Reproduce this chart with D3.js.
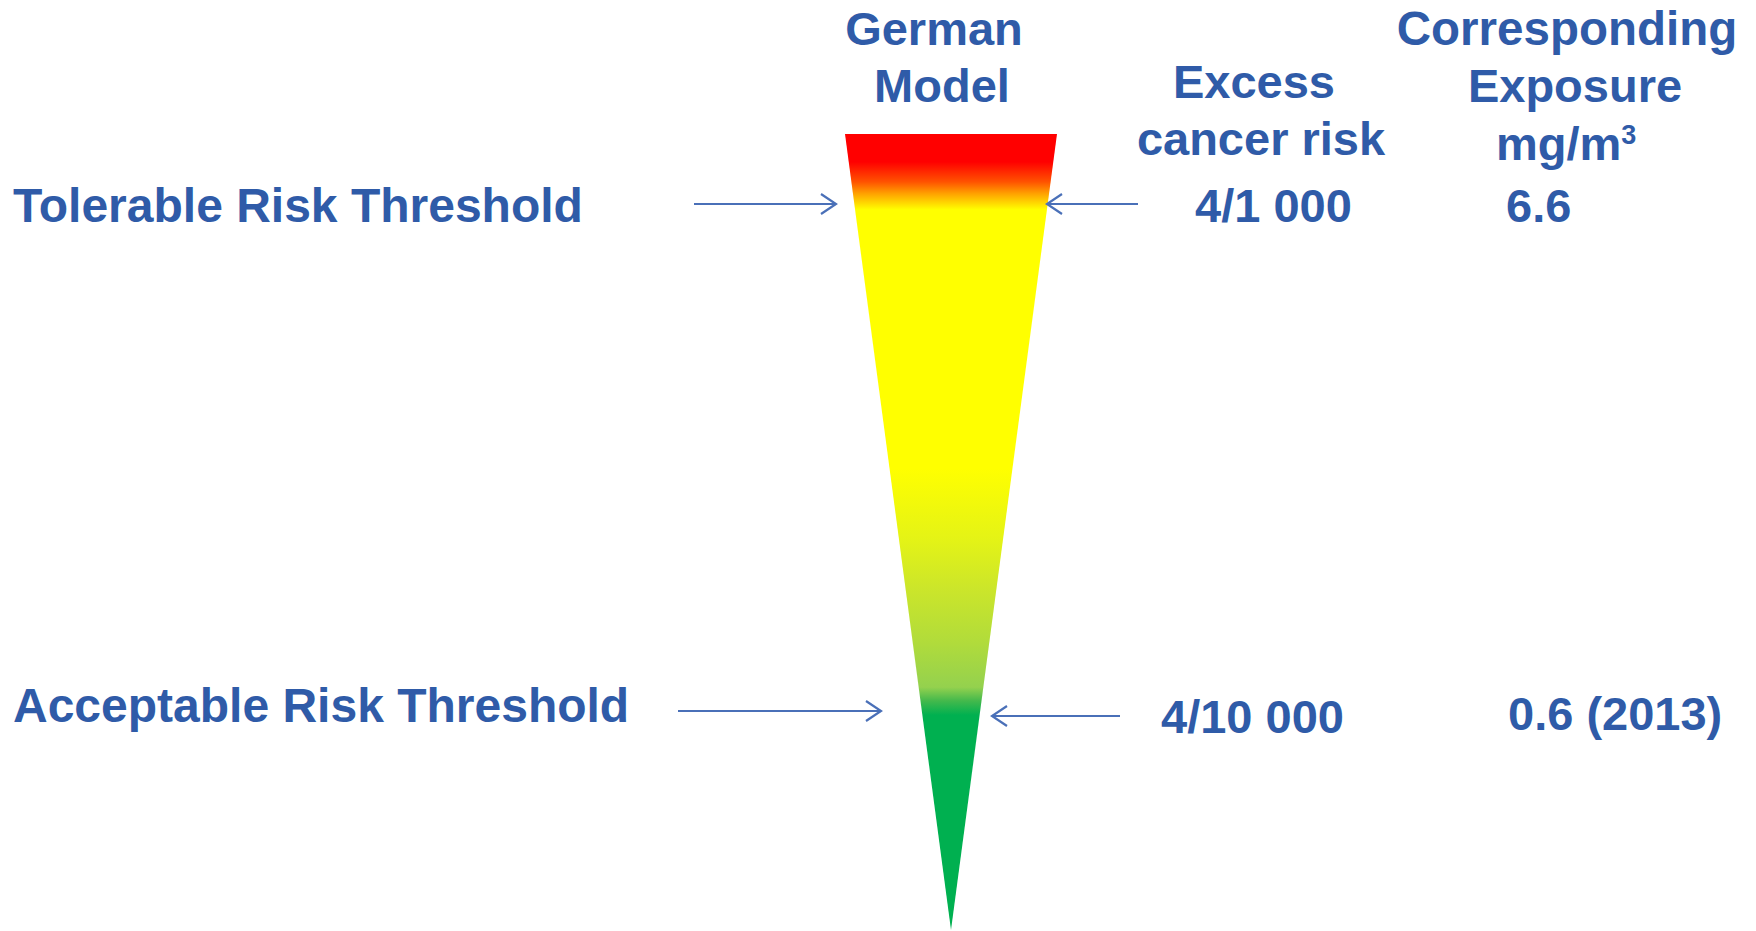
<!DOCTYPE html>
<html>
<head>
<meta charset="utf-8">
<script src="https://cdn.jsdelivr.net/npm/d3@7"></script>
<style>
  html, body { margin: 0; padding: 0; background: #ffffff; }
  svg { display: block; }
  text { font-family: "Liberation Sans", Arial, sans-serif; font-weight: bold; fill: #2f5ba8; }
</style>
</head>
<body>
<svg id="chart" width="1756" height="931"></svg>
<script>
// ---------- data ----------
const thresholdNames = ["Tolerable Risk Threshold", "Acceptable Risk Threshold"];
const riskLabels = ["4/1 000", "4/10 000"];
const exposureLabels = ["6.6", "0.6 (2013)"];
const modelHeader = ["German", "Model"];
const riskHeader = ["Excess", "cancer risk"];
const exposureHeader = ["Corresponding", "Exposure", "mg/m"];
const exposureUnitSup = "3";
// colour ramp of the funnel from top (0) to apex (1)
const rampOffsets = [0, 0.035, 0.06, 0.075, 0.095, 0.42, 0.51, 0.57, 0.636, 0.695, 0.712, 0.73, 1];
const rampColors  = ["#ff0000", "#ff0000", "#ff5200", "#ffa200", "#ffff00", "#ffff00", "#e4f316", "#cce62a", "#b2dc3a", "#94d14e", "#44b94c", "#00b050", "#00b050"];

// ---------- layout ----------
const svg = d3.select("#chart");
const ARROW = "#4a70b8";

// funnel depth scale (0 = top, 1 = apex)
const y = d3.scaleLinear().domain([0, 1]).range([134, 930]);
// funnel width scale (-1 = left rim, 1 = right rim)
const x = d3.scaleLinear().domain([-1, 1]).range([845, 1057]);
const apexX = 951;

// gradient
const defs = svg.append("defs");
const grad = defs.append("linearGradient")
  .attr("id", "ramp")
  .attr("gradientUnits", "userSpaceOnUse")
  .attr("x1", 0).attr("x2", 0)
  .attr("y1", y(0)).attr("y2", y(1));
grad.selectAll("stop")
  .data(rampOffsets.map((o, i) => ({ o, c: rampColors[i] })))
  .join("stop")
  .attr("offset", d => d.o)
  .attr("stop-color", d => d.c);

// funnel
const funnelPts = [[x(-1), y(0)], [x(1), y(0)], [apexX, y(1)]];
svg.append("path")
  .attr("d", d3.line()(funnelPts) + "Z")
  .attr("fill", "url(#ramp)");

// headers
const FS = 47;
function lines(arr, cx, baselines, size) {
  svg.append("g").selectAll("text")
    .data(arr)
    .join("text")
    .attr("x", (d, i) => cx[i])
    .attr("y", (d, i) => baselines[i])
    .attr("text-anchor", "middle")
    .attr("font-size", size)
    .text(d => d);
}
lines(modelHeader, [934, 942], [45, 102], FS);
lines(riskHeader, [1254, 1261], [98, 155], FS);
const expG = svg.append("g");
expG.append("text").attr("x", 1567).attr("y", 45).attr("text-anchor", "middle")
  .attr("font-size", 47.5).text(exposureHeader[0]);
expG.append("text").attr("x", 1575).attr("y", 102).attr("text-anchor", "middle")
  .attr("font-size", FS).text(exposureHeader[1]);
const unit = expG.append("text").attr("x", 1496).attr("y", 160).attr("font-size", FS);
unit.append("tspan").text(exposureHeader[2]);
unit.append("tspan").attr("font-size", 27).attr("dy", -16).text(exposureUnitSup);

// threshold rows
const rows = [
  { name: thresholdNames[0], nameY: 222, risk: riskLabels[0], riskX: 1195, riskY: 222,
    exp: exposureLabels[0], expX: 1506, expY: 222,
    left: { x0: 694, x1: 836, y: 204 }, right: { x0: 1138, x1: 1047, y: 204 } },
  { name: thresholdNames[1], nameY: 722, risk: riskLabels[1], riskX: 1161, riskY: 733,
    exp: exposureLabels[1], expX: 1508, expY: 730,
    left: { x0: 678, x1: 881, y: 711 }, right: { x0: 1120, x1: 992, y: 716 } }
];

const rowG = svg.append("g").selectAll("g").data(rows).join("g");
rowG.append("text").attr("x", 13).attr("y", d => d.nameY).attr("font-size", 48).text(d => d.name);
rowG.append("text").attr("x", d => d.riskX).attr("y", d => d.riskY).attr("font-size", FS).text(d => d.risk);
rowG.append("text").attr("x", d => d.expX).attr("y", d => d.expY).attr("font-size", FS).text(d => d.exp);

function arrow(g, a) {
  const dir = Math.sign(a.x1 - a.x0);
  g.append("path")
    .attr("d", d3.line()([[a.x0, a.y], [a.x1, a.y]]))
    .attr("stroke", ARROW).attr("stroke-width", 2.2).attr("fill", "none");
  g.append("path")
    .attr("d", d3.line()([[a.x1 - dir * 15, a.y - 10], [a.x1, a.y], [a.x1 - dir * 15, a.y + 10]]))
    .attr("stroke", ARROW).attr("stroke-width", 2.2).attr("fill", "none")
    .attr("stroke-linejoin", "miter");
}
rowG.each(function (d) {
  const g = d3.select(this);
  arrow(g, d.left);
  arrow(g, d.right);
});
</script>
</body>
</html>
